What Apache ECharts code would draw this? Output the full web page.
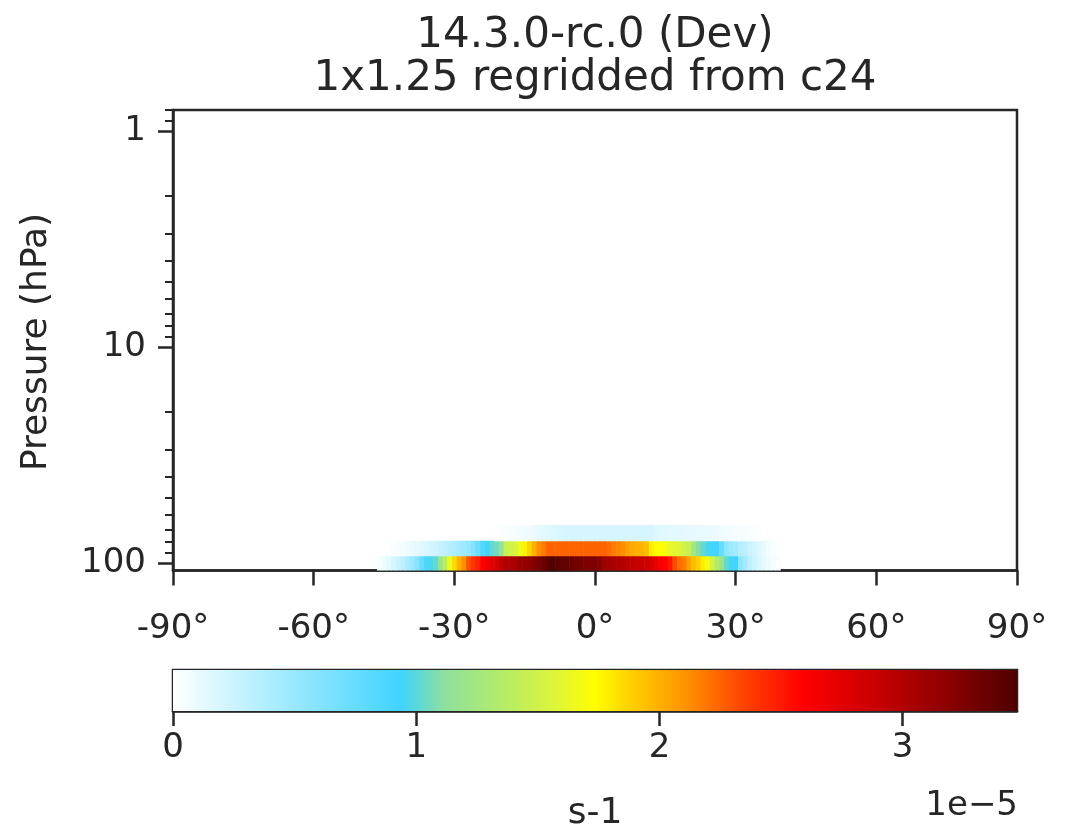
<!DOCTYPE html>
<html><head><meta charset="utf-8">
<script src="https://cdn.jsdelivr.net/npm/echarts@6/dist/echarts.min.js"></script>
<style>html,body{margin:0;padding:0;background:#fff}#c{width:1068px;height:833px}</style>
</head><body><div id="c"></div>
<script>
// ---------------- data ----------------
const titleLines = ['14.3.0-rc.0 (Dev)', '1x1.25 regridded from c24'];
const yAxisTitle = 'Pressure (hPa)';
const unitLabel = 's-1';
const unitScale = '1e\u22125';
// latitude centres (deg) of the 1-degree cells shown
const lats = [];
for (let l = -46; l <= 40; l++) lats.push(l);
// pressure level centres (hPa) and their edges
const levelCenters = [100, 85.4, 72.5];
const levelEdges = [108.3, 92.5, 78.8, 66.7];
// values in units of 1e-5 s-1, one per latitude in `lats`
const vals100 = [0.03,0.08,0.13,0.2,0.26,0.32,0.4,0.48,0.6,0.73, 0.88,0.97,1.02,1.2,1.38,1.65,1.85,2.0,2.12,2.3,
  2.4,2.47,2.6,2.67,2.75,2.82,2.95,3.0,3.02,3.05, 3.12,3.15,3.18,3.23,3.28,3.33,3.42,3.47,3.42,3.38,
  3.38,3.35,3.3,3.28,3.25,3.25,3.25,3.2,3.1,3.07, 3.05,3.02,2.98,2.95,2.93,2.9,2.88,2.86,2.8,2.7,
  2.62,2.58,2.5,2.32,2.22,2.18,2.05,1.95,1.88,1.78, 1.68,1.5,1.35,1.2,1.02,0.95,0.93,0.55,0.45,0.32,
  0.25,0.18,0.12,0.08,0.05,0.02,0];
const vals85 = [0,0,0,0.02,0.04,0.06,0.08,0.1,0.12,0.15, 0.18,0.21,0.24,0.28,0.32,0.36,0.4,0.44,0.48,0.53,
  0.6,0.72,0.85,0.95,1.02,1.05,1.15,1.45,1.5,1.55, 1.65,1.77,1.87,2.0,2.12,2.17,2.25,2.25,2.25,2.25,
  2.25,2.25,2.25,2.25,2.25,2.25,2.25,2.25,2.25,2.22, 2.17,2.15,2.12,2.05,2.02,2.0,1.98,1.95,1.78,1.75,
  1.73,1.7,1.62,1.6,1.57,1.5,1.45,1.25,1.1,1.02, 0.96,0.95,0.93,0.75,0.55,0.48,0.44,0.37,0.33,0.26,
  0.22,0.16,0.11,0.06,0.03,0,0];
const vals72 = [0,0,0,0,0,0,0,0,0,0, 0,0,0,0,0,0,0,0,0,0,
  0,0,0,0,0,0.01,0.02,0.03,0.04,0.05, 0.06,0.07,0.08,0.1,0.12,0.14,0.15,0.17,0.18,0.19,
  0.2,0.2,0.2,0.2,0.2,0.2,0.2,0.2,0.2,0.2, 0.2,0.2,0.2,0.2,0.2,0.2,0.2,0.2,0.2,0.16,
  0.15,0.15,0.14,0.14,0.13,0.13,0.12,0.12,0.11,0.11, 0.1,0.1,0.09,0.08,0.07,0.06,0.05,0.05,0.04,0.03,
  0.02,0.01,0,0,0,0,0];
const rows = [vals100, vals85, vals72];
// axis ticks
const xTicks = [-90, -60, -30, 0, 30, 60, 90];
const yMajor = [1, 10, 100];
const yMinor = [0.8, 0.9, 2, 3, 4, 5, 6, 7, 8, 9, 20, 30, 40, 50, 60, 70, 80, 90];
const cbTicks = [0, 1, 2, 3];
const vmin = 0, vmax = 3.47;
const latMin = -90, latMax = 90, pTop = 0.8, pBottom = 108.3;

// ---------------- colormap ----------------
const cmap = [[0,'#ffffff'],[0.27,'#40d4ff'],[0.29,'#5cd8d8'],[0.32,'#8ce0a0'],[0.39,'#b4ec68'],
  [0.45,'#dcf43c'],[0.5,'#ffff00'],[0.54,'#ffd200'],[0.61,'#ff9000'],[0.675,'#ff4400'],
  [0.747,'#ff0000'],[0.84,'#c40000'],[1,'#500000']];
function hex2rgb(h){return [parseInt(h.substr(1,2),16),parseInt(h.substr(3,2),16),parseInt(h.substr(5,2),16)];}
function colorFor(v){
  let f = (v - vmin) / (vmax - vmin); f = Math.max(0, Math.min(1, f));
  for (let i = 1; i < cmap.length; i++) {
    if (f <= cmap[i][0]) {
      const a = cmap[i-1], b = cmap[i], t = (f - a[0]) / (b[0] - a[0]);
      const ca = hex2rgb(a[1]), cb = hex2rgb(b[1]);
      return 'rgb(' + ca.map((c,k)=>Math.round(c + (cb[k]-c)*t)).join(',') + ')';
    }
  }
  return cmap[cmap.length-1][1];
}

const cellData = [];
rows.forEach((vals, r) => vals.forEach((v, i) => { if (v > 0) cellData.push([lats[i], levelCenters[r], v, r]); }));

const ink = '#262626';
const font = 'DejaVu Sans';
const chart = echarts.init(document.getElementById('c'), null, {renderer: 'canvas'});
chart.setOption({
  animation: false,
  backgroundColor: '#ffffff',
  textStyle: {fontFamily: font, color: ink},
  grid: [
    {left: 173, top: 110, width: 844, height: 460.5, show: true, borderColor: ink, borderWidth: 2.5, backgroundColor: 'transparent'},
    {left: 173, top: 670, width: 844, height: 41, show: true, borderColor: ink, borderWidth: 2.5, backgroundColor: 'transparent'}
  ],
  xAxis: [
    {gridIndex: 0, type: 'value', min: latMin, max: latMax, interval: 30,
     axisLine: {show: true, onZero: false, lineStyle: {color: ink, width: 2.5}},
     axisTick: {show: true, length: 15, lineStyle: {color: ink, width: 2.5}, customValues: xTicks},
     axisLabel: {customValues: xTicks, formatter: v => v + '\u00b0', fontSize: 34, color: ink, fontFamily: font, margin: 42},
     splitLine: {show: false}},
    {gridIndex: 1, type: 'value', min: vmin, max: vmax,
     name: unitLabel, nameLocation: 'middle', nameGap: 85, nameTextStyle: {fontSize: 36, color: ink, fontFamily: font},
     axisLine: {show: true, onZero: false, lineStyle: {color: ink, width: 2.5}},
     axisTick: {show: true, length: 15, lineStyle: {color: ink, width: 2.5}, customValues: cbTicks},
     axisLabel: {customValues: cbTicks, fontSize: 34, color: ink, fontFamily: font, margin: 20},
     splitLine: {show: false}}
  ],
  yAxis: [
    {gridIndex: 0, type: 'log', logBase: 10, min: pTop, max: pBottom, inverse: true, position: 'left',
     axisLine: {show: true, onZero: false, lineStyle: {color: ink, width: 2.5}},
     axisTick: {show: true, length: 15, lineStyle: {color: ink, width: 2.5}, customValues: yMajor},
     axisLabel: {customValues: yMajor, fontSize: 34, color: ink, fontFamily: font, margin: 27},
     splitLine: {show: false}},
    {gridIndex: 0, type: 'log', logBase: 10, min: pTop, max: pBottom, inverse: true, position: 'left',
     axisLine: {show: false, onZero: false},
     axisTick: {show: true, length: 8, lineStyle: {color: ink, width: 2}, customValues: yMinor},
     axisLabel: {show: false}, splitLine: {show: false}},
    {gridIndex: 1, type: 'value', min: 0, max: 1, show: false}
  ],
  series: [
    {type: 'custom', xAxisIndex: 0, yAxisIndex: 0, clip: true, data: cellData,
     encode: {x: 0, y: 1},
     renderItem: function (params, api) {
       const lat = api.value(0), r = api.value(3), v = api.value(2);
       const a = api.coord([lat - 0.5, levelEdges[r]]);
       const b = api.coord([lat + 0.5, levelEdges[r + 1]]);
       const x = Math.min(a[0], b[0]), y = Math.min(a[1], b[1]);
       return {type: 'rect', shape: {x: x, y: y, width: Math.abs(b[0]-a[0]) + 0.6, height: Math.abs(b[1]-a[1]) + 0.6},
               style: {fill: colorFor(v), stroke: null}};
     }},
    {type: 'custom', xAxisIndex: 1, yAxisIndex: 2, clip: false, data: [[vmin, vmax]],
     encode: {x: [0, 1]},
     renderItem: function (params, api) {
       const a = api.coord([api.value(0), 0]);
       const b = api.coord([api.value(1), 1]);
       return {type: 'rect', shape: {x: a[0], y: b[1], width: b[0]-a[0], height: a[1]-b[1]},
               style: {fill: new echarts.graphic.LinearGradient(0, 0, 1, 0, cmap.map(s => ({offset: s[0], color: s[1]})))}};
     }}
  ],
  graphic: [
    {type: 'text', x: 595, y: 36, style: {text: titleLines[0], font: '42px "DejaVu Sans"', fill: ink, textAlign: 'center', textVerticalAlign: 'middle'}},
    {type: 'text', x: 595, y: 79, style: {text: titleLines[1], font: '42px "DejaVu Sans"', fill: ink, textAlign: 'center', textVerticalAlign: 'middle'}},
    {type: 'text', x: 37, y: 342, rotation: Math.PI / 2, style: {text: yAxisTitle, font: '36px "DejaVu Sans"', fill: ink, textAlign: 'center', textVerticalAlign: 'middle'}},
    {type: 'text', x: 1018, y: 806, style: {text: unitScale, font: '34px "DejaVu Sans"', fill: ink, textAlign: 'right', textVerticalAlign: 'middle'}}
  ]
});
</script>
</body></html>
